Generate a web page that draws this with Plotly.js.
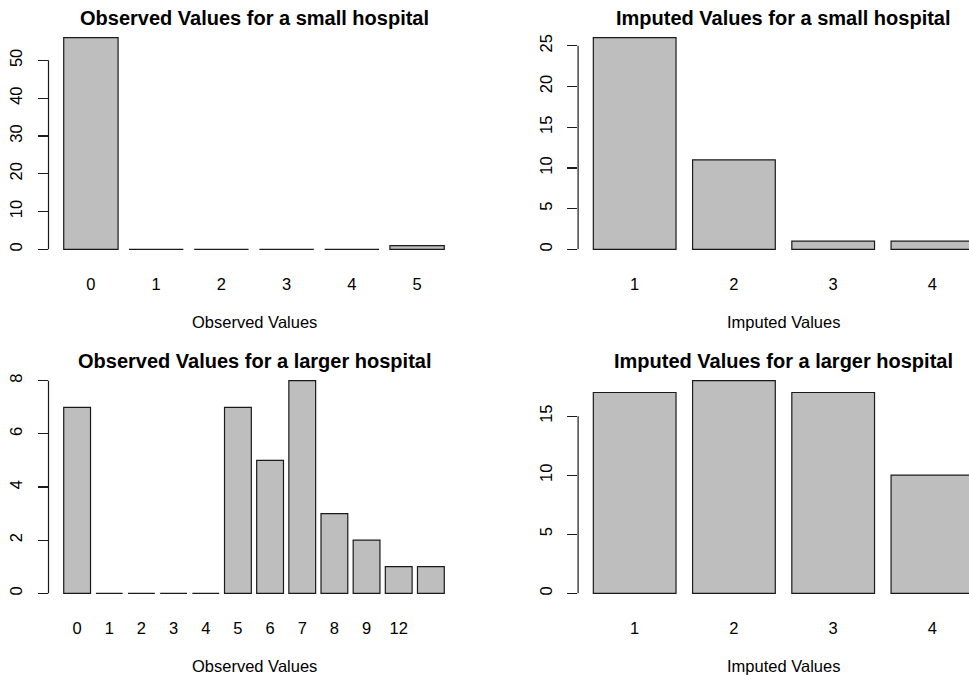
<!DOCTYPE html>
<html><head><meta charset="utf-8">
<script src="https://cdn.plot.ly/plotly-3.0.1.min.js"></script>
<style>html,body{margin:0;padding:0;background:#fff;} #chart{width:969px;height:675px;}</style>
</head><body><div id="chart"></div>
<script>
// ---- data ----
const obsSmallCats = ['0','1','2','3','4','5'];
const obsSmallCounts = [56,0,0,0,0,1];
const obsSmallYTicks = [0,10,20,30,40,50];

const impSmallCats = ['1','2','3','4'];
const impSmallCounts = [26,11,1,1];
const impSmallYTicks = [0,5,10,15,20,25];

const obsLargeCats = ['0','1','2','3','4','5','6','7','8','9','12','13'];
const obsLargeCounts = [7,0,0,0,0,7,5,8,3,2,1,1];
const obsLargeTickLabels = ['0','1','2','3','4','5','6','7','8','9','12',''];
const obsLargeYTicks = [0,2,4,6,8];

const impLargeCats = ['1','2','3','4'];
const impLargeCounts = [17,18,17,10];
const impLargeYTicks = [0,5,10,15];

const titles = ['Observed Values for a small hospital','Imputed Values for a small hospital',
                'Observed Values for a larger hospital','Imputed Values for a larger hospital'];
const xTitles = ['Observed Values','Imputed Values','Observed Values','Imputed Values'];

// ---- layout geometry (pixels) ----
const W = 969, H = 675;
const FONT = 'Liberation Sans, Arial, Helvetica, sans-serif';
const TICK_SIZE = 16.5, TITLE_SIZE = 20;
const panels = [
  {cats: obsSmallCats, vals: obsSmallCounts, labels: obsSmallCats, yt: obsSmallYTicks, px:[48.5,459.5], py:[29.2,257.8]},
  {cats: impSmallCats, vals: impSmallCounts, labels: impSmallCats, yt: impSmallYTicks, px:[578.1,989], py:[29.2,257.8]},
  {cats: obsLargeCats, vals: obsLargeCounts, labels: obsLargeTickLabels, yt: obsLargeYTicks, px:[48.5,459.5], py:[372.2,601.8]},
  {cats: impLargeCats, vals: impLargeCounts, labels: impLargeCats, yt: impLargeYTicks, px:[578.1,989], py:[372.2,601.8]}
];

const data = [], shapes = [], annotations = [];
const layout = {
  width: W, height: H, margin:{l:0,r:0,t:0,b:0},
  paper_bgcolor:'#fff', plot_bgcolor:'#fff', showlegend:false,
  font:{family:FONT, size:TICK_SIZE, color:'#000'},
  bargap: 0
};

panels.forEach((p, i) => {
  const k = i === 0 ? '' : String(i+1);
  const n = p.vals.length;
  const centers = p.vals.map((_, j) => 0.7 + 1.2*j);
  const lo = 0.2, hi = 1.2*n, pad = 0.04*(hi-lo);
  const xlim = [lo-pad, hi+pad];
  const ymax = Math.max(...p.vals);
  const ylim = [-0.04*ymax, 1.04*ymax];
  // clip to canvas
  let pxR = p.px[1], xR = xlim[1];
  if (pxR > W) { xR = xlim[0] + (xlim[1]-xlim[0])*(W-p.px[0])/(p.px[1]-p.px[0]); pxR = W; }
  data.push({
    type:'bar', x: centers, y: p.vals, width: 1,
    xaxis:'x'+k, yaxis:'y'+k,
    marker:{color:'#bebebe', line:{color:'#1a1a1a', width:1.2}},
    hoverinfo:'skip', cliponaxis:true
  });
  layout['xaxis'+k] = {
    domain:[p.px[0]/W, pxR/W], range:[xlim[0], xR], anchor:'y'+k,
    showline:false, showgrid:false, zeroline:false, ticks:'',
    tickmode:'array', tickvals: centers, ticktext: p.labels,
    ticklabelstandoff: 15, tickfont:{size:TICK_SIZE, family:FONT, color:'#000'}, fixedrange:true
  };
  layout['yaxis'+k] = {
    domain:[1-p.py[1]/H, 1-p.py[0]/H], range: ylim, anchor:'x'+k,
    showline:false, showgrid:false, zeroline:false,
    ticks:'outside', ticklen:10, tickwidth:1.2, tickcolor:'#1a1a1a',
    tickmode:'array', tickvals:p.yt, ticktext:p.yt.map(String), tickangle:-90,
    ticklabelstandoff: 9, tickfont:{size:TICK_SIZE, family:FONT, color:'#000'}, fixedrange:true
  };
  shapes.push({type:'line', xref:'x'+k+' domain', yref:'y'+k, x0:0, x1:0,
    y0:p.yt[0], y1:p.yt[p.yt.length-1], line:{color:'#1a1a1a', width:1.2}});
  const xmid = (xlim[0]+xlim[1])/2;
  annotations.push({xref:'x'+k, yref:'paper', x:xmid, y:1-(p.py[0]-11)/H,
    xanchor:'center', yanchor:'middle', showarrow:false, text:titles[i],
    font:{family:FONT, size:TITLE_SIZE, weight:'bold', color:'#000'}});
  annotations.push({xref:'x'+k, yref:'paper', x:xmid, y:1-(p.py[1]+63.8)/H,
    xanchor:'center', yanchor:'middle', showarrow:false, text:xTitles[i],
    font:{family:FONT, size:TICK_SIZE, color:'#000'}});
});
layout.shapes = shapes;
layout.annotations = annotations;
Plotly.newPlot('chart', data, layout, {staticPlot:true, displayModeBar:false});
</script></body></html>
